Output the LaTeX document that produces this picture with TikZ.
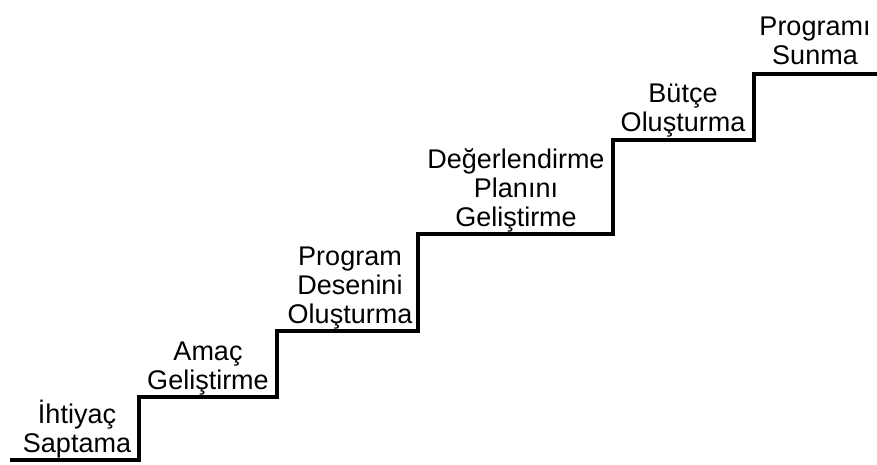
\documentclass[tikz,border=0pt]{standalone}
\usepackage{fontspec}
\setmainfont{Liberation Sans}
\tikzset{
  stair/.style={line width=4.5pt, line join=miter, line cap=butt},
  lbl/.style={anchor=base, inner sep=0pt, font=\fontsize{27}{29}\selectfont}
}
\newcommand{\lines}[1]{\begin{tabular}[b]{@{}c@{}}#1\end{tabular}}
\begin{document}
\begin{tikzpicture}[x=1pt,y=-1pt]
\useasboundingbox (0,0) rectangle (877,465);
\coordinate (s0) at (10,460);
\coordinate (c1) at (139,460);
\coordinate (c2) at (139,397);
\coordinate (c3) at (277,397);
\coordinate (c4) at (277,331);
\coordinate (c5) at (418,331);
\coordinate (c6) at (418,234);
\coordinate (c7) at (613,234);
\coordinate (c8) at (613,140);
\coordinate (c9) at (754,140);
\coordinate (c10) at (754,74);
\coordinate (e) at (877,74);
\draw[stair] (s0) -- (c1) -- (c2) -- (c3) -- (c4) -- (c5) -- (c6) -- (c7) -- (c8) -- (c9) -- (c10) -- (e);
\node[lbl] (l1) at (77,452) {\lines{İhtiyaç\\Saptama}};
\node[lbl] (l2) at (208,389) {\lines{Amaç\\Geliştirme}};
\node[lbl] (l3) at (350,323) {\lines{Program\\Desenini\\Oluşturma}};
\node[lbl] (l4) at (516,226) {\lines{Değerlendirme\\Planını\\Geliştirme}};
\node[lbl] (l5) at (683,132) {\lines{Bütçe\\Oluşturma}};
\node[lbl] (l6) at (815,65) {\lines{Programı\\Sunma}};
\end{tikzpicture}
\end{document}
